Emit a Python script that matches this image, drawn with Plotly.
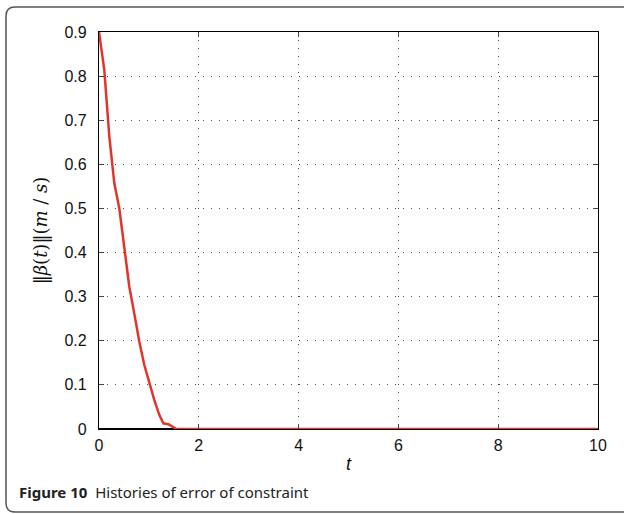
import plotly.graph_objects as go

t_vals = [0.0, 0.106, 0.207, 0.307, 0.407, 0.507, 0.607, 0.707, 0.808, 0.908, 1.008,
          1.108, 1.208, 1.29, 1.39, 1.49, 1.55, 2.0, 4.0, 6.0, 8.0, 10.0]
beta_vals = [0.9, 0.814, 0.663, 0.557, 0.500, 0.406, 0.323, 0.262, 0.198, 0.145, 0.104,
             0.066, 0.032, 0.013, 0.011, 0.004, 0.0, 0.0, 0.0, 0.0, 0.0, 0.0]
x_ticks = [0, 2, 4, 6, 8, 10]
y_ticks = [0, 0.1, 0.2, 0.3, 0.4, 0.5, 0.6, 0.7, 0.8, 0.9]
y_tick_text = ["0", "0.1", "0.2", "0.3", "0.4", "0.5", "0.6", "0.7", "0.8", "0.9"]

W, H = 624, 514
L, R, T, B = 99, 26, 32, 85
pw, ph = W - L - R, H - T - B

def px(x):
    return (x - L) / pw

def py(y):
    return (H - B - y) / ph

fig = go.Figure()
fig.add_trace(go.Scatter(x=[0, 10], y=[0, 0], mode="lines",
                         line=dict(color="black", width=2), showlegend=False, hoverinfo="skip"))
fig.add_trace(go.Scatter(x=t_vals, y=beta_vals, mode="lines",
                         line=dict(color="#e3342a", width=2.5), showlegend=False))

# outer rounded frame (open on the right)
x0, y0, x1, y1, r = 6, 7, 624, 512, 9
path = (f"M {px(x1)} {py(y0)} L {px(x0 + r)} {py(y0)} Q {px(x0)} {py(y0)} {px(x0)} {py(y0 + r)} "
        f"L {px(x0)} {py(y1 - r)} Q {px(x0)} {py(y1)} {px(x0 + r)} {py(y1)} L {px(x1)} {py(y1)}")
fig.add_shape(type="path", xref="paper", yref="paper", path=path,
              line=dict(color="#555555", width=1.5))

fig.add_annotation(xref="paper", yref="paper", x=px(17), y=py(492), xanchor="left", yanchor="middle",
                   text="<b>Figure 10</b>  Histories of error of constraint", showarrow=False,
                   font=dict(family="Noto Sans", size=15, color="#222222"))

tickfont = dict(family="Liberation Sans", size=16, color="#111111")
grid = dict(showgrid=True, gridcolor="#444444", griddash="1px,7px", gridwidth=1)

fig.update_xaxes(range=[0, 10], tickvals=x_ticks, ticks="inside", ticklen=5, mirror="ticks",
                 showline=True, linecolor="black", linewidth=1.3, zeroline=False, tickfont=tickfont,
                 ticklabelstandoff=2,
                 title=dict(text="<i>t</i>", font=dict(family="Liberation Sans", size=18, color="#111111"),
                            standoff=4), **grid)
fig.update_yaxes(range=[0, 0.9], tickvals=y_ticks, ticktext=y_tick_text, ticks="inside", ticklen=5,
                 mirror="ticks", showline=True, linecolor="black", linewidth=1.3, zeroline=False,
                 tickfont=tickfont, ticklabelstandoff=8,
                 title=dict(text="‖<i>β</i>(<i>t</i>)‖(<i>m</i> / <i>s</i>)",
                            font=dict(family="DejaVu Serif", size=18, color="#111111"), standoff=12),
                 **grid)

fig.update_layout(width=W, height=H, margin=dict(l=L, r=R, t=T, b=B),
                  plot_bgcolor="white", paper_bgcolor="white", showlegend=False)
fig.write_html("out.html")
